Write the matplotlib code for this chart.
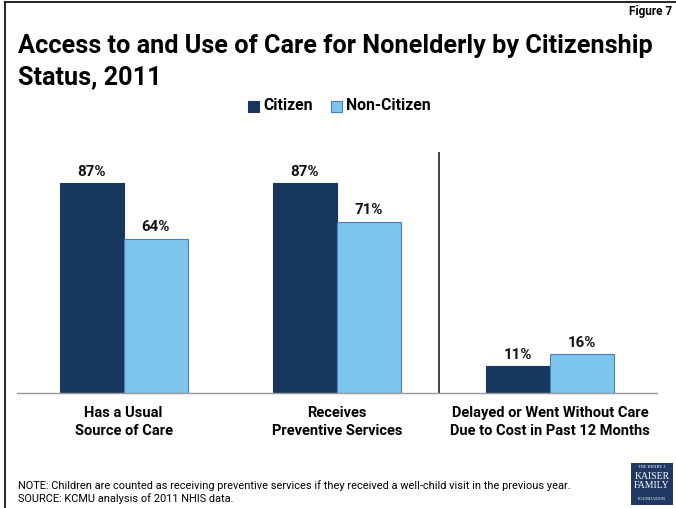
import numpy as np
import matplotlib.pyplot as plt
from matplotlib.patches import Rectangle
from matplotlib.lines import Line2D

# data
categories = ["Has a Usual\nSource of Care",
              "Receives\nPreventive Services",
              "Delayed or Went Without Care\nDue to Cost in Past 12 Months"]
citizen = [87, 87, 11]
non_citizen = [64, 71, 16]
series_names = ["Citizen", "Non-Citizen"]

dark = "#17375E"
light = "#7DC5EC"
light_edge = "#4A7EBB"

plt.rcParams['font.family'] = ['Roboto', 'DejaVu Sans']

fig = plt.figure(figsize=(6.76, 5.08), dpi=100)
W, H = 676, 508

# axes placed in pixel terms: baseline at y=393, x from 17 to 657
ax = fig.add_axes([17 / W, (H - 393) / H, 640 / W, 241.4 / H])
x = np.arange(len(categories))
w = 0.3
b1 = ax.bar(x - w / 2, citizen, w, color=dark, edgecolor=dark, linewidth=0.8)
b2 = ax.bar(x + w / 2, non_citizen, w, color=light, edgecolor=light_edge, linewidth=0.8)
for bars, vals in ((b1, citizen), (b2, non_citizen)):
    for r, v in zip(bars, vals):
        ax.text(r.get_x() + r.get_width() / 2, v + 1.8, f"{v}%", ha='center', va='bottom',
                fontsize=10.8, fontweight='bold', color='#111111')

ax.set_xlim(-0.5, 2.5)
ax.set_ylim(0, 100)
for s in ('top', 'right', 'left'):
    ax.spines[s].set_visible(False)
ax.spines['bottom'].set_color('#999999')
ax.spines['bottom'].set_linewidth(1)
ax.set_yticks([])
ax.set_xticks(x)
ax.set_xticklabels(categories, fontsize=10.5, fontweight='bold', linespacing=1.35)
ax.tick_params(axis='x', length=0, pad=9.5)
ax.axvline(1.48, 0, 1.0, color='#222222', linewidth=1.2)

# title block
fig.text(672 / W, 1 - 12 / H, "Figure 7", ha='right', va='center', fontsize=8.5, fontweight='bold')
fig.text(18 / W, 1 - 61.5 / H, "Access to and Use of Care for Nonelderly by Citizenship\nStatus, 2011",
         ha='left', va='center', fontsize=18.2, fontweight='bold', linespacing=1.4)

# legend
fig.patches.append(Rectangle((248 / W, 1 - 112 / H), 11 / W, 11 / H, transform=fig.transFigure,
                             facecolor=dark, edgecolor=dark, lw=0.8))
fig.text(263 / W, 1 - 106 / H, series_names[0], ha='left', va='center', fontsize=11.3, fontweight='bold')
fig.patches.append(Rectangle((331 / W, 1 - 112 / H), 11 / W, 11 / H, transform=fig.transFigure,
                             facecolor=light, edgecolor=light_edge, lw=0.8))
fig.text(346 / W, 1 - 106 / H, series_names[1], ha='left', va='center', fontsize=11.3, fontweight='bold')

# notes
fig.text(18 / W, 1 - 492 / H,
         "NOTE: Children are counted as receiving preventive services if they received a well-child visit in the previous year.\n"
         "SOURCE: KCMU analysis of 2011 NHIS data.",
         ha='left', va='center', fontsize=7.9, linespacing=1.2)

# logo
fig.patches.append(Rectangle((631 / W, 1 - 505 / H), 42 / W, 42 / H, transform=fig.transFigure,
                             facecolor="#1F3864", edgecolor='none'))
fig.text(652 / W, 1 - 467 / H, "THE HENRY J.", ha='center', va='center', fontsize=3.2,
         color='white', family='Liberation Serif')
fig.text(652 / W, 1 - 481 / H, "KAISER\nFAMILY", ha='center', va='center', fontsize=7,
         color='white', family='Liberation Serif', linespacing=0.95)
fig.text(652 / W, 1 - 499 / H, "FOUNDATION", ha='center', va='center', fontsize=3.2,
         color='white', family='Liberation Serif')

# frame edges
fig.lines.append(Line2D([5 / W, 5 / W], [0, 1 - 2 / H], transform=fig.transFigure, color='black', lw=1.2))
fig.lines.append(Line2D([5 / W, 1], [1 - 2 / H, 1 - 2 / H], transform=fig.transFigure, color='black', lw=1.2))

plt.savefig('out.png', dpi=100)
